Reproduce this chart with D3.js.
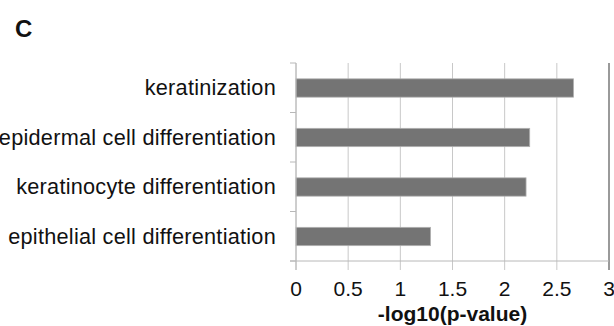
<!DOCTYPE html>
<html>
<head>
<meta charset="utf-8">
<script src="https://cdn.jsdelivr.net/npm/d3@7"></script>
<style>
  body { margin: 0; background: #fff; }
  svg { display: block; font-family: "Liberation Sans", Arial, sans-serif; }
</style>
</head>
<body>
<svg id="chart" width="614" height="326"></svg>
<script>
var categories = ["keratinization", "epidermal cell differentiation", "keratinocyte differentiation", "epithelial cell differentiation"];
var values = [2.66, 2.24, 2.205, 1.29];
var xTicks = [0, 0.5, 1, 1.5, 2, 2.5, 3];
var tickLabels = ["0", "0.5", "1", "1.5", "2", "2.5", "3"];
var panelLabel = "C";
var xTitle = "-log10(p-value)";

var plotLeft = 296, plotRight = 609, plotTop = 63, plotBottom = 261;

var svg = d3.select("#chart");

var x = d3.scaleLinear().domain([0, 3]).range([plotLeft, plotRight]);
var y = d3.scaleBand().domain(categories).range([plotTop, plotBottom]).padding(0);
var step = y.step();

// panel letter
svg.append("text")
  .attr("x", 15)
  .attr("y", 37)
  .attr("font-size", 24)
  .attr("font-weight", "bold")
  .attr("fill", "#111")
  .text(panelLabel);

// gridlines (extend below axis as ticks)
svg.selectAll(".grid").data(xTicks).enter()
  .append("line")
  .attr("class", "grid")
  .attr("x1", function(d) { return x(d); })
  .attr("x2", function(d) { return x(d); })
  .attr("y1", plotTop)
  .attr("y2", plotBottom + 9)
  .attr("stroke", function(d) { return d == 3 ? "#9a9a9a" : "#c8c8c8"; })
  .attr("stroke-width", function(d) { return d == 3 ? 2 : 1; });

// bars
svg.selectAll(".bar").data(values).enter()
  .append("rect")
  .attr("class", "bar")
  .attr("x", x(0))
  .attr("y", function(d, i) { return y(categories[i]) + step * 0.32; })
  .attr("width", function(d) { return x(d) - x(0); })
  .attr("height", step * 0.37)
  .attr("fill", "#747474")
  .attr("stroke", "#b0b0b0")
  .attr("stroke-width", 0.8);

// left axis line + category ticks
svg.append("line")
  .attr("x1", plotLeft).attr("x2", plotLeft)
  .attr("y1", plotTop).attr("y2", plotBottom + 9)
  .attr("stroke", "#b8b8b8");

var bounds = categories.map(function(c) { return y(c); }).concat([plotBottom]);
svg.selectAll(".ytick").data(bounds).enter()
  .append("line")
  .attr("x1", plotLeft - 6).attr("x2", plotLeft)
  .attr("y1", function(d) { return d; })
  .attr("y2", function(d) { return d; })
  .attr("stroke", "#b8b8b8");

// bottom axis line
svg.append("line")
  .attr("x1", plotLeft - 6).attr("x2", plotRight)
  .attr("y1", plotBottom).attr("y2", plotBottom)
  .attr("stroke", "#b8b8b8");

// category labels
svg.selectAll(".cat").data(categories).enter()
  .append("text")
  .attr("x", 276)
  .attr("y", function(d) { return y(d) + step / 2; })
  .attr("dy", "0.35em")
  .attr("text-anchor", "end")
  .attr("font-size", 21.7)
  .attr("letter-spacing", 0.25)
  .attr("fill", "#111")
  .text(function(d) { return d; });

// tick labels
svg.selectAll(".xlab").data(xTicks).enter()
  .append("text")
  .attr("x", function(d) { return x(d); })
  .attr("y", 296)
  .attr("text-anchor", "middle")
  .attr("font-size", 21)
  .attr("fill", "#111")
  .text(function(d, i) { return tickLabels[i]; });

// axis title
svg.append("text")
  .attr("x", (plotLeft + plotRight) / 2)
  .attr("y", 321)
  .attr("text-anchor", "middle")
  .attr("font-size", 21)
  .attr("font-weight", "bold")
  .attr("fill", "#111")
  .text(xTitle);
</script>
</body>
</html>
